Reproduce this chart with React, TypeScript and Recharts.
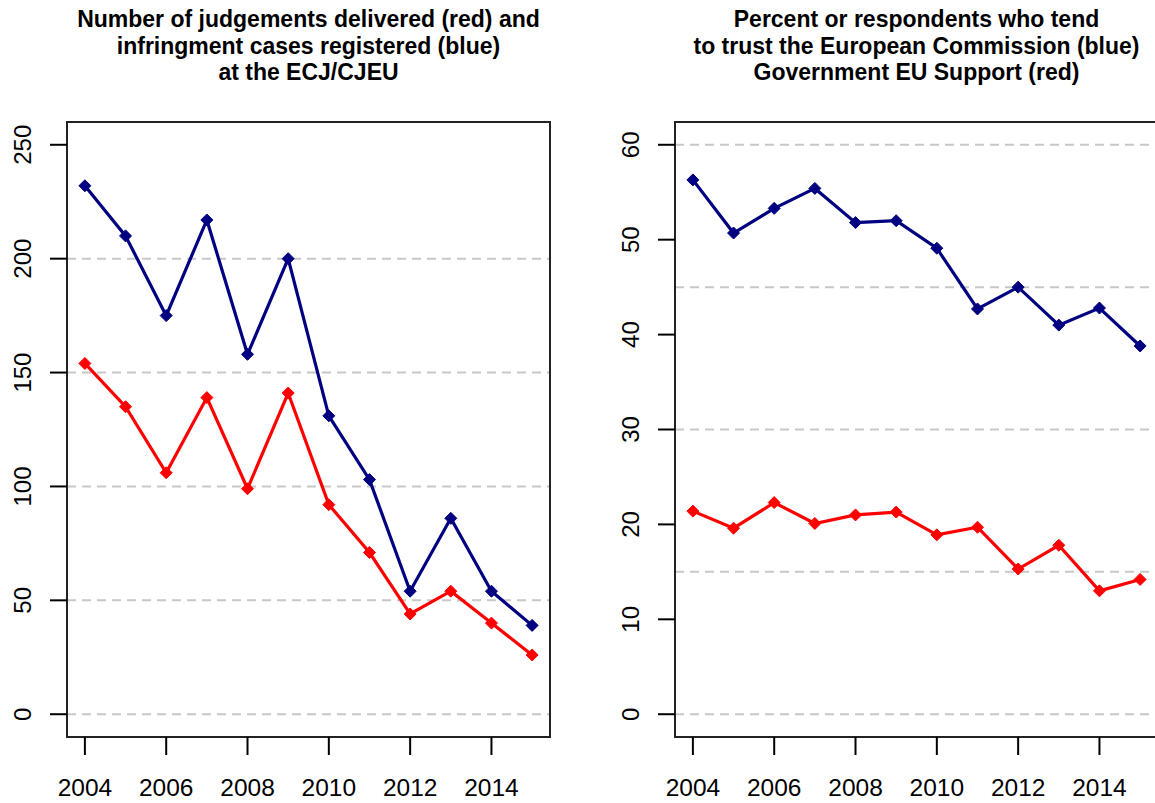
import React from 'react';
import { LineChart, Line, XAxis, YAxis, CartesianGrid, ReferenceArea } from 'recharts';

const years = [2004, 2005, 2006, 2007, 2008, 2009, 2010, 2011, 2012, 2013, 2014, 2015];
const infringementCases = [232, 210, 175, 217, 158, 200, 131, 103, 54, 86, 54, 39];
const judgementsDelivered = [154, 135, 106, 139, 99, 141, 92, 71, 44, 54, 40, 26];
const trustCommission = [56.3, 50.7, 53.3, 55.4, 51.8, 52.0, 49.1, 42.7, 45.0, 41.0, 42.8, 38.8];
const govSupport = [21.4, 19.6, 22.3, 20.1, 21.0, 21.3, 18.9, 19.7, 15.3, 17.8, 13.0, 14.2];

const xTicks = [2004, 2006, 2008, 2010, 2012, 2014];
const xDomain: [number, number] = [2003.56, 2015.44];

const leftYTicks = [0, 50, 100, 150, 200, 250];
const leftGrid = [0, 50, 100, 150, 200];
const leftYDomain: [number, number] = [-10, 260];

const rightYTicks = [0, 10, 20, 30, 40, 50, 60];
const rightGrid = [0, 15, 30, 45, 60];
const rightYDomain: [number, number] = [-2.4, 62.4];

const leftTitle = [
  'Number of judgements delivered (red) and',
  'infringment cases registered (blue)',
  'at the ECJ/CJEU',
];
const rightTitle = [
  'Percent or respondents who tend',
  'to trust the European Commission (blue)',
  'Government EU Support (red)',
];

const leftData = years.map((year, i) => ({ year, blue: infringementCases[i], red: judgementsDelivered[i] }));
const rightData = years.map((year, i) => ({ year, blue: trustCommission[i], red: govSupport[i] }));

const FONT = '"Liberation Sans", Arial, Helvetica, sans-serif';
const NAVY = '#000080';
const RED = '#FF0000';

const diamond = (color: string) => (props: any) => {
  const { cx, cy, index } = props;
  if (cx == null || cy == null) return <g key={`e-${index}`} />;
  const r = 6;
  return (
    <path
      key={`d-${color}-${index}`}
      d={`M${cx},${cy - r}L${cx + r},${cy}L${cx},${cy + r}L${cx - r},${cy}Z`}
      fill={color}
      stroke={color}
      strokeWidth={1}
    />
  );
};

const makeYTick = (labelX: number) => (props: any) => {
  const { y, payload } = props;
  return (
    <text
      x={labelX}
      y={y}
      dy="0.36em"
      transform={`rotate(-90 ${labelX} ${y})`}
      textAnchor="middle"
      fontSize={24}
      fontFamily={FONT}
      fill="#000"
    >
      {payload.value}
    </text>
  );
};

type PanelProps = {
  data: any[];
  left: number;
  width: number;
  marginRight: number;
  yDomain: [number, number];
  yTicks: number[];
  grid: number[];
};

const Panel = ({ data, left, width, marginRight, yDomain, yTicks, grid }: PanelProps) => (
  <div style={{ position: 'absolute', left, top: 0 }}>
    <LineChart
      width={width}
      height={803}
      data={data}
      margin={{ top: 122, right: marginRight, bottom: 0, left: 0 }}
    >
      <CartesianGrid
        vertical={false}
        horizontalValues={grid}
        stroke="#c8c8c8"
        strokeWidth={2}
        strokeDasharray="9 6"
      />
      <XAxis
        dataKey="year"
        type="number"
        domain={xDomain}
        ticks={xTicks}
        interval={0}
        axisLine={false}
        tickLine={{ stroke: '#000', strokeWidth: 2 }}
        tickSize={18}
        tickMargin={24}
        height={66}
        tick={{ fontSize: 24.5, fill: '#000', fontFamily: FONT }}
      />
      <YAxis
        type="number"
        domain={yDomain}
        ticks={yTicks}
        interval={0}
        axisLine={false}
        tickLine={{ stroke: '#000', strokeWidth: 2 }}
        tickSize={17}
        width={67}
        tick={makeYTick(22)}
      />
      <ReferenceArea
        x1={xDomain[0]}
        x2={xDomain[1]}
        y1={yDomain[0]}
        y2={yDomain[1]}
        fill="none"
        fillOpacity={0}
        stroke="#222"
        strokeWidth={2}
        ifOverflow="visible"
      />
      <Line
        dataKey="blue"
        stroke={NAVY}
        strokeWidth={3.2}
        dot={diamond(NAVY)}
        activeDot={false}
        isAnimationActive={false}
      />
      <Line
        dataKey="red"
        stroke={RED}
        strokeWidth={3.2}
        dot={diamond(RED)}
        activeDot={false}
        isAnimationActive={false}
      />
    </LineChart>
  </div>
);

const Title = ({ lines, center }: { lines: string[]; center: number }) => (
  <div
    style={{
      position: 'absolute',
      left: center - 300,
      top: 6,
      width: 600,
      textAlign: 'center',
      fontFamily: FONT,
      fontWeight: 'bold',
      fontSize: 23,
      lineHeight: '26.5px',
      color: '#000',
    }}
  >
    {lines.map((l, i) => (
      <div key={i}>{l}</div>
    ))}
  </div>
);

export default function App() {
  return (
    <div
      style={{
        position: 'absolute',
        left: 0,
        top: 0,
        width: 1155,
        height: 803,
        overflow: 'hidden',
        background: '#fff',
      }}
    >
      <Panel
        data={leftData}
        left={0}
        width={560}
        marginRight={10}
        yDomain={leftYDomain}
        yTicks={leftYTicks}
        grid={leftGrid}
      />
      <Panel
        data={rightData}
        left={608}
        width={550}
        marginRight={0}
        yDomain={rightYDomain}
        yTicks={rightYTicks}
        grid={rightGrid}
      />
      <Title lines={leftTitle} center={308.5} />
      <Title lines={rightTitle} center={916.5} />
    </div>
  );
}
